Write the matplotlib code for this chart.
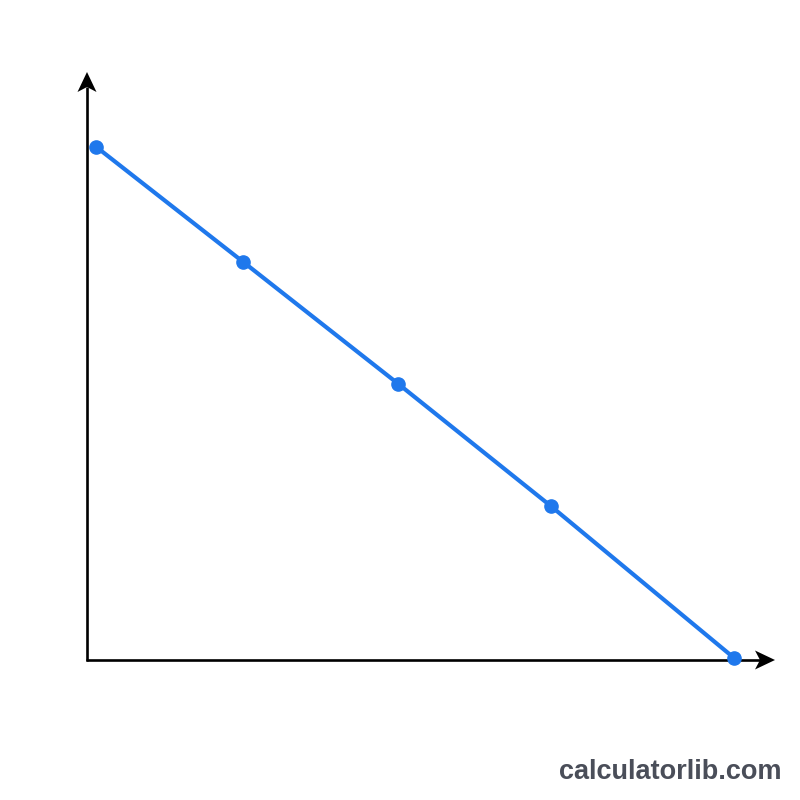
import matplotlib
matplotlib.use("Agg")
import matplotlib.pyplot as plt

# Data (arbitrary units, axis spans 0..100 on both axes)
x_values = [1.3, 22.7, 45.2, 67.4, 94.0]
y_values = [87.3, 67.7, 47.0, 26.2, 0.4]

LINE_COLOR = "#1f78ec"

fig = plt.figure(figsize=(8, 8), dpi=100)
fig.patch.set_facecolor("white")
ax = fig.add_axes([0, 0, 1, 1])
ax.set_axis_off()

# pixel mapping: x data 0 -> px 87, 100 -> px 775 ; y data 0 -> px 660, 100 -> px 72
sx = (775 - 87) / 100.0
sy = (660 - 72) / 100.0
ax.set_xlim(-87 / sx, (800 - 87) / sx)
ax.set_ylim(-(800 - 660) / sy, 660 / sy)

# axis lines
ax.plot([-0.15, 100 - 15 / sx], [0, 0], color="black", lw=1.9, solid_capstyle="butt")
ax.plot([0, 0], [-0.15, 100 - 15 / sy], color="black", lw=1.9, solid_capstyle="butt")

# stealth-style arrow heads (sizes in pixels converted to data units)
L, N, H = 20.0, 15.0, 9.5
ax.fill([100, 100 - L / sx, 100 - N / sx, 100 - L / sx],
        [0, H / sy, 0, -H / sy], color="black", lw=0)
ax.fill([0, H / sx, 0, -H / sx],
        [100, 100 - L / sy, 100 - N / sy, 100 - L / sy], color="black", lw=0)

ax.plot(x_values, y_values, color=LINE_COLOR, lw=3, marker="o", markersize=9.5,
        markerfacecolor=LINE_COLOR, markeredgecolor=LINE_COLOR, zorder=5,
        solid_capstyle="round")

fig.text(782 / 800, 1 - 772 / 800, "calculatorlib.com", ha="right", va="center",
         fontsize=19.5, fontweight="bold", family=["Liberation Sans", "DejaVu Sans"],
         color="#4a4e59")

fig.savefig("out.png", dpi=100, facecolor="white")
